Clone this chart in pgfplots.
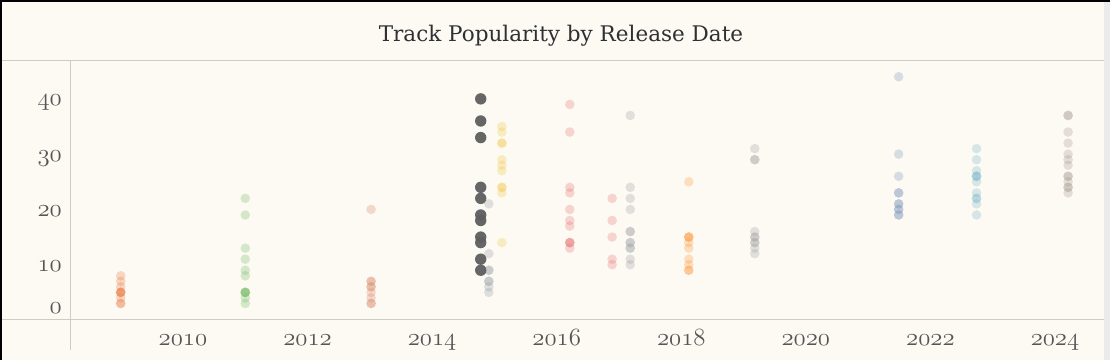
\documentclass[border=0pt]{standalone}
\usepackage{fontspec}
\usepackage{pgfplots}
\pgfplotsset{compat=1.18}
\newfontfamily\titlefont{DejaVu Serif}
\newcommand{\osn}[1]{$\mathnormal{#1}$}
\definecolor{bg}{HTML}{FDFAF3}
\definecolor{linec}{HTML}{CFCCC6}
\definecolor{tickc}{HTML}{555555}
\definecolor{titlec}{HTML}{2E3033}
\definecolor{cA}{HTML}{EA824C}
\definecolor{cB}{HTML}{79BD6A}
\definecolor{cC}{HTML}{D98A6C}
\definecolor{cK}{HTML}{5F5F5F}
\definecolor{cG1}{HTML}{98A0AA}
\definecolor{cY}{HTML}{F2C94C}
\definecolor{cP}{HTML}{E8797B}
\definecolor{cG2}{HTML}{9EA3A6}
\definecolor{cO}{HTML}{FF9A40}
\definecolor{cG3}{HTML}{A3A3A3}
\definecolor{cBl}{HTML}{7F99BD}
\definecolor{cLb}{HTML}{7DB9CB}
\definecolor{cT}{HTML}{A79D93}
\pgfplotsset{dot/.style={only marks, mark=*, mark size=4.8bp, color=#1, mark options={draw=#1, fill=#1, draw opacity=0, fill opacity=0.3}}}
\begin{document}
\begin{tikzpicture}
\useasboundingbox (0,0) rectangle (1110bp,360bp);
\fill[bg] (0,0) rectangle (1110bp,360bp);
\fill[black] (0,358bp) rectangle (1110bp,360bp);
\fill[black] (0,0) rectangle (2bp,360bp);
\fill[black!8] (1104bp,0) rectangle (1110bp,358bp);
\draw[linec, line width=1bp] (2bp,299bp) -- (1104bp,299bp);
\draw[linec, line width=1bp] (2bp,40bp) -- (1104bp,40bp);
\draw[linec, line width=1bp] (70bp,299bp) -- (70bp,10bp);
\node[anchor=base, text=titlec, font=\titlefont\fontsize{21.6}{22}\selectfont] at (561bp,318bp) {Track Popularity by Release Date};
\begin{axis}[
  at={(70bp,40bp)}, anchor=south west,
  scale only axis, width=1034bp, height=259bp,
  xmin=2008.186, xmax=2024.786, ymin=0, ymax=46.85,
  axis line style={draw=none},
  major tick length=0pt,
  clip=false,
  xtick={2010,2012,2014,2016,2018,2020,2022,2024},
  xticklabels={\osn{2010},\osn{2012},\osn{2014},\osn{2016},\osn{2018},\osn{2020},\osn{2022},\osn{2024}},
  ytick={0,10,20,30,40},
  yticklabels={\raisebox{13.5bp}{\osn{0}},\osn{10},\osn{20},\osn{30},\osn{40}},
  tick label style={font=\fontsize{23.5}{24}\selectfont, text=tickc},
  xticklabel style={anchor=base, inner sep=0pt, yshift=-25bp},
  yticklabel style={anchor=base east, inner sep=0pt, xshift=-8bp, yshift=-7bp},
]
\addplot[dot=cA] coordinates {(2009.0,8)(2009.0,7)(2009.0,6)(2009.0,5)(2009.0,5)(2009.0,5)(2009.0,5)(2009.0,4)(2009.0,3)(2009.0,3)};
\addplot[dot=cB] coordinates {(2011.0,22)(2011.0,19)(2011.0,13)(2011.0,11)(2011.0,9)(2011.0,8)(2011.0,5)(2011.0,5)(2011.0,5)(2011.0,5)(2011.0,4)(2011.0,3)};
\addplot[dot=cC] coordinates {(2013.02,20)(2013.02,7)(2013.02,7)(2013.02,6)(2013.02,6)(2013.02,5)(2013.02,4)(2013.02,3)(2013.02,3)};
\addplot[dot=cG1] coordinates {(2014.91,21)(2014.91,12)(2014.91,9)(2014.91,9)(2014.91,7)(2014.91,7)(2014.91,6)(2014.91,5)};
\addplot[only marks, mark=*, mark size=5.7bp, color=cK, mark options={draw=cK, fill=cK, draw opacity=0, fill opacity=0.95}] coordinates {(2014.78,40)(2014.78,36)(2014.78,33)(2014.78,24)(2014.78,22)(2014.78,19)(2014.78,18)(2014.78,15)(2014.78,14)(2014.78,11)(2014.78,9)};
\addplot[dot=cY] coordinates {(2015.12,35)(2015.12,34)(2015.12,32)(2015.12,32)(2015.12,29)(2015.12,28)(2015.12,27)(2015.12,24)(2015.12,24)(2015.12,23)(2015.12,14)};
\addplot[dot=cP] coordinates {(2016.21,39)(2016.21,34)(2016.21,24)(2016.21,23)(2016.21,20)(2016.21,18)(2016.21,17)(2016.21,14)(2016.21,14)(2016.21,14)(2016.21,13)};
\addplot[dot=cP] coordinates {(2016.89,22)(2016.89,18)(2016.89,15)(2016.89,11)(2016.89,10)};
\addplot[dot=cG2] coordinates {(2017.18,37)(2017.18,24)(2017.18,22)(2017.18,20)(2017.18,16)(2017.18,16)(2017.18,14)(2017.18,14)(2017.18,13)(2017.18,13)(2017.18,11)(2017.18,10)};
\addplot[dot=cO] coordinates {(2018.12,25)(2018.12,15)(2018.12,15)(2018.12,15)(2018.12,14)(2018.12,13)(2018.12,11)(2018.12,10)(2018.12,9)(2018.12,9)};
\addplot[dot=cG3] coordinates {(2019.18,31)(2019.18,29)(2019.18,29)(2019.18,16)(2019.18,15)(2019.18,15)(2019.18,14)(2019.18,14)(2019.18,13)(2019.18,12)};
\addplot[dot=cBl] coordinates {(2021.49,44)(2021.49,30)(2021.49,26)(2021.49,23)(2021.49,23)(2021.49,21)(2021.49,21)(2021.49,20)(2021.49,20)(2021.49,19)(2021.49,19)};
\addplot[dot=cLb] coordinates {(2022.74,31)(2022.74,29)(2022.74,27)(2022.74,26)(2022.74,26)(2022.74,26)(2022.74,25)(2022.74,23)(2022.74,22)(2022.74,22)(2022.74,21)(2022.74,19)};
\addplot[dot=cT] coordinates {(2024.21,37)(2024.21,37)(2024.21,34)(2024.21,32)(2024.21,30)(2024.21,29)(2024.21,28)(2024.21,26)(2024.21,26)(2024.21,25)(2024.21,24)(2024.21,24)(2024.21,23)};
\end{axis}
\end{tikzpicture}
\end{document}
